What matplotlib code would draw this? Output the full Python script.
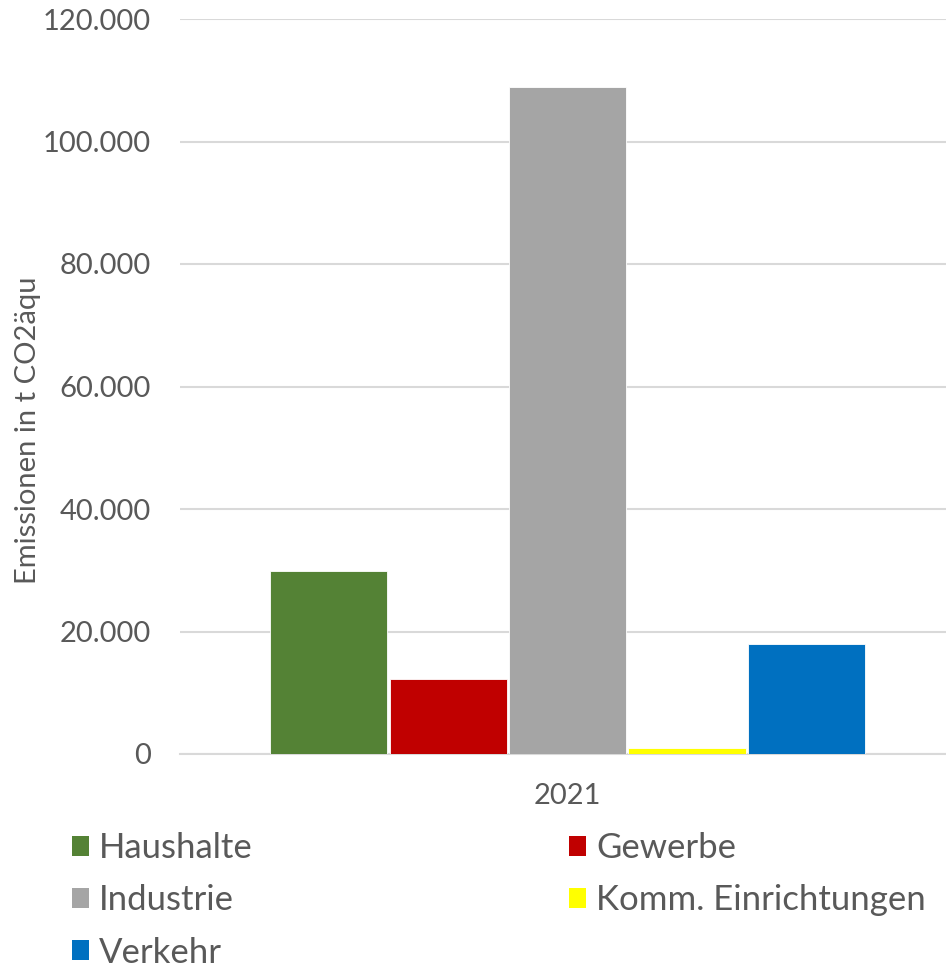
import matplotlib
matplotlib.use("Agg")
import matplotlib.pyplot as plt
from matplotlib.patches import Patch
from matplotlib.ticker import FuncFormatter, MultipleLocator

plt.rcParams['font.family'] = ['Lato', 'DejaVu Sans']

categories = ["Haushalte", "Gewerbe", "Industrie", "Komm. Einrichtungen", "Verkehr"]
values = [29900, 12200, 108900, 900, 18000]
colors = ["#548235", "#C00000", "#A5A5A5", "#FFFF00", "#0070C0"]
year = "2021"
ylabel = "Emissionen in t CO2äqu"

txt = "#595959"
fig = plt.figure(figsize=(9.46, 9.73), dpi=100)
ax = fig.add_axes([180/946, (973-754)/973, (946-180)/946, (754-19)/973])

n = len(values)
step = 0.156
width = step - 0.003
offsets = [(i - (n - 1) / 2) * step + 0.006 for i in range(n)]
for off, v, c, lab in zip(offsets, values, colors, categories):
    ax.bar(off, v, width=width, color=c, edgecolor="white", linewidth=0.6, label=lab, zorder=3)

ax.set_xlim(-0.5, 0.5)
ax.set_ylim(0, 120000)
ax.yaxis.set_major_locator(MultipleLocator(20000))
ax.yaxis.set_major_formatter(FuncFormatter(lambda v, p: f"{int(v):,}".replace(",", ".")))
ax.set_xticks([0.006])
ax.set_xticklabels([year])
ax.grid(axis="y", color="#d9d9d9", linewidth=1.5, zorder=0)
for s in ["top", "right", "left"]:
    ax.spines[s].set_visible(False)
ax.spines["bottom"].set_color("#d9d9d9")
ax.spines["bottom"].set_linewidth(1.5)
ax.tick_params(axis="both", length=0, colors=txt, labelsize=21)
ax.tick_params(axis="y", pad=21)
ax.tick_params(axis="x", pad=21)
ax.set_ylabel(ylabel, color=txt, fontsize=21)
ax.yaxis.set_label_coords(-139/766, (754-430)/735)

handles = [Patch(facecolor=c, edgecolor="none") for c in colors]
order = [0, 2, 4, 1, 3]
leg = fig.legend([handles[i] for i in order], [categories[i] for i in order],
                 ncol=2, loc="upper left", bbox_to_anchor=(41/946, 1 - 801/973),
                 frameon=False, fontsize=25, labelcolor=txt,
                 handlelength=0.49, handleheight=0.49, handletextpad=0.29,
                 columnspacing=9.1, labelspacing=0.58)

fig.savefig("out.png", dpi=100)
